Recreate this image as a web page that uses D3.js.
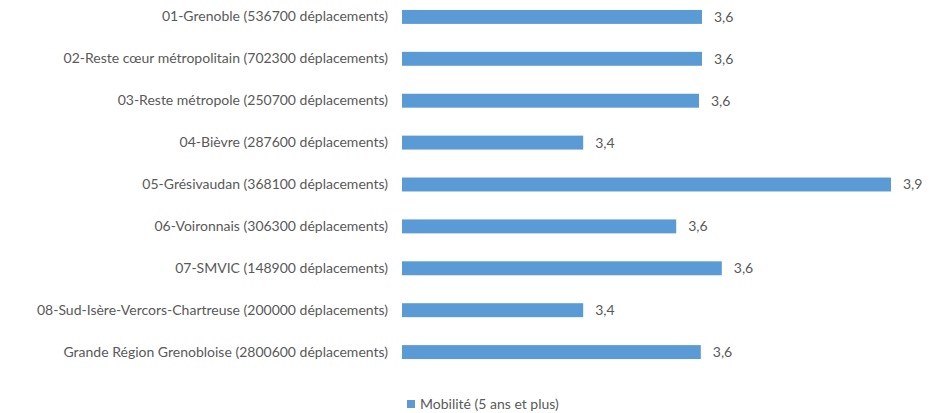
<!DOCTYPE html>
<html>
<head>
<meta charset="utf-8">
<script src="https://cdn.jsdelivr.net/npm/d3@7"></script>
<style>
  body { margin: 0; background: #fff; }
  text { font-family: Lato, "Liberation Sans", Arial, sans-serif; fill: #595959; }
</style>
</head>
<body>
<div id="chart"></div>
<script>
var width = 934;
var height = 413;

var barColor = "#5b9bd5";

// territoires (du haut vers le bas)
var categories = [
  "01-Grenoble (536700 déplacements)",
  "02-Reste cœur métropolitain (702300 déplacements)",
  "03-Reste métropole (250700 déplacements)",
  "04-Bièvre (287600 déplacements)",
  "05-Grésivaudan (368100 déplacements)",
  "06-Voironnais (306300 déplacements)",
  "07-SMVIC (148900 déplacements)",
  "08-Sud-Isère-Vercors-Chartreuse (200000 déplacements)",
  "Grande Région Grenobloise (2800600 déplacements)"
];

// nombre de déplacements par personne et par jour
var mobilite = [3.60, 3.60, 3.595, 3.402, 3.915, 3.557, 3.633, 3.402, 3.598];

var seriesName = "Mobilité (5 ans et plus)";

var fr = d3.formatLocale({decimal: ",", thousands: " ", grouping: [3], currency: ["", " €"]});
var fmt = fr.format(".1f");

var svg = d3.select("#chart").append("svg")
  .attr("width", width)
  .attr("height", height);

var x = d3.scaleLinear()
  .domain([3.1, 3.9])
  .range([402, 882]);

var y = d3.scaleBand()
  .domain(categories)
  .range([-4, 373])
  .paddingInner(0.667)
  .paddingOuter(0.333);

// barres
svg.selectAll(".bar")
  .data(mobilite)
  .enter().append("rect")
    .attr("class", "bar")
    .attr("x", x(3.1))
    .attr("y", function(d, i) { return y(categories[i]); })
    .attr("width", function(d) { return x(d) - x(3.1); })
    .attr("height", y.bandwidth())
    .attr("fill", barColor);

// étiquettes de valeurs
svg.selectAll(".val")
  .data(mobilite)
  .enter().append("text")
    .attr("class", "val")
    .attr("x", function(d) { return x(d) + 12; })
    .attr("y", function(d, i) { return y(categories[i]) + y.bandwidth() / 2; })
    .attr("dy", "0.35em")
    .style("font-size", "14px")
    .text(function(d) { return fmt(d); });

// axe des catégories (sans ligne ni graduations)
var yAxis = svg.append("g")
  .attr("transform", "translate(388,0)")
  .call(d3.axisLeft(y).tickSize(0).tickPadding(0));
yAxis.select(".domain").remove();
yAxis.selectAll("text")
  .style("font-size", "14px")
  .style("font-family", "Lato, 'Liberation Sans', Arial, sans-serif")
  .attr("fill", "#595959");

// légende
var legend = svg.append("g").attr("transform", "translate(407,400)");
legend.append("rect")
  .attr("width", 8)
  .attr("height", 8)
  .attr("fill", barColor);
legend.append("text")
  .attr("x", 13)
  .attr("y", 4)
  .attr("dy", "0.35em")
  .style("font-size", "14px")
  .text(seriesName);
</script>
</body>
</html>
